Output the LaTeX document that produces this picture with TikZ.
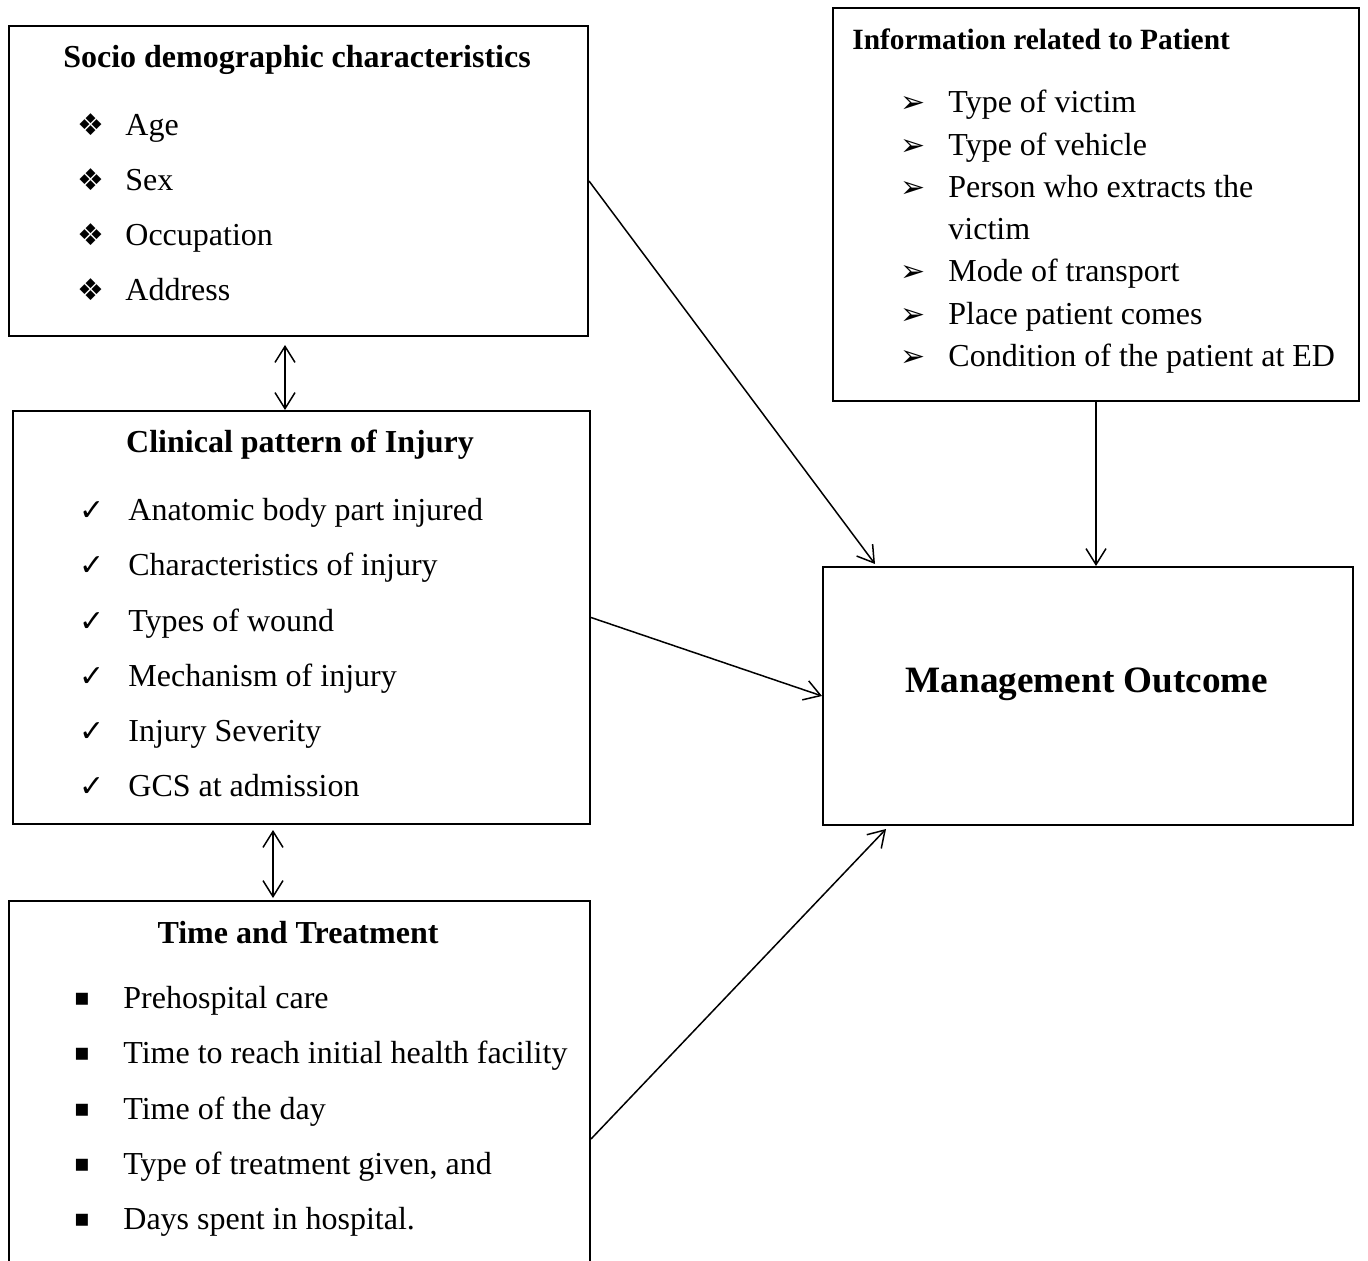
\documentclass[tikz,border=0pt]{standalone}
\usepackage{fontspec}
\setmainfont{Liberation Serif}
\newfontfamily\symfont{DejaVu Sans}
\usetikzlibrary{arrows.meta}

\begin{document}
\begin{tikzpicture}[x=0.5pt, y=-0.5pt,
    box/.style={draw, line width=1pt, anchor=north west, inner sep=0pt},
    head/.style={font=\fontsize{16}{19}\selectfont\bfseries, inner sep=0pt, yshift=-1.5pt},
    item/.style={font=\fontsize{16}{19}\selectfont, anchor=west, inner sep=0pt, yshift=-1.5pt,
        text height=11pt, text depth=3.5pt},
    bul/.style={font=\symfont\fontsize{15}{17}\selectfont, inner sep=0pt, yshift=-1pt,
        text height=9pt, text depth=0.5pt},
    link/.style={-{Straight Barb[length=8pt,width=10pt]}, line width=0.75pt},
    both/.style={{Straight Barb[length=8pt,width=10pt]}-{Straight Barb[length=8pt,width=10pt]}, line width=0.75pt}]
    \useasboundingbox (0,0) rectangle (1368,1261);
    \begin{scope}
    \clip (0,0) rectangle (1368,1261);
    % boxes
    \node[box, minimum width=289.5pt, minimum height=155pt] (socio) at (8,25) {};
    \node[box, minimum width=263pt, minimum height=196.5pt] (info) at (832,7) {};
    \node[box, minimum width=288.5pt, minimum height=206.5pt] (clinic) at (12,410) {};
    \node[box, minimum width=265pt, minimum height=129pt] (outcome) at (822,566) {};
    \node[box, minimum width=290.5pt, minimum height=238pt] (treat) at (8,900) {};
    \end{scope}

    % socio demographic
    \node[head] (sociohead) at (297,57) {Socio demographic characteristics};
    \foreach \t [count=\i] in {Age, Sex, Occupation, Address} {
    \node[bul] (sb\i) at (91, 70+55*\i) {❖};
    \node[item] (st\i) at (125, 70+55*\i) {\t};
    }

    % patient information
    \node[head, font=\fontsize{14.7}{17}\selectfont\bfseries, anchor=west] (infohead) at (852,36) {Information related to Patient};
    \foreach \y/\t [count=\i] in {102/Type of victim, 145/Type of vehicle, 187/Person who extracts the,
        271/Mode of transport, 314/Place patient comes, 356/Condition of the patient at ED} {
    \node[bul] (ib\i) at (913,\y) {➢};
    \node[item] (it\i) at (948,\y) {\t};
    }
    \node[item] (it3b) at (948,229) {victim};

    % clinical pattern
    \node[head] (clinichead) at (300,442) {Clinical pattern of Injury};
    \foreach \t [count=\i] in {Anatomic body part injured, Characteristics of injury, Types of wound,
        Mechanism of injury, Injury Severity, GCS at admission} {
    \node[bul] (cb\i) at (92, 455+55.2*\i) {✓};
    \node[item] (ct\i) at (128, 455+55.2*\i) {\t};
    }

    % time and treatment
    \node[head] (treathead) at (298,930) {Time and Treatment};
    \foreach \t [count=\i] in {Prehospital care, Time to reach initial health facility, Time of the day,
        {Type of treatment given, and}, Days spent in hospital.} {
    \node[bul, font=\symfont\fontsize{12}{14}\selectfont, text height=6pt] (tb\i) at (82, 943+55.2*\i) {▪};
    \node[item] (tt\i) at (123, 943+55.2*\i) {\t};
    }

    % outcome
    \node[head, font=\fontsize{18.6}{22}\selectfont\bfseries] (outhead) at (1087,681) {Management Outcome};

    % connectors
    \coordinate (sc) at ([xshift=-6.75pt]socio.south);
    \coordinate (ct) at ([xshift=-14.25pt]clinic.south);
    \draw[both, shorten <=4pt] (sc) -- (sc |- clinic.north);
    \draw[both, shorten <=2.5pt, shorten >=1pt] (ct) -- (ct |- treat.north);
    \draw[link] (socio.east) -- ([xshift=26.5pt, yshift=1pt]outcome.north west);
    \draw[link] (info.south) -- (info.south |- outcome.north);
    \draw[link] (clinic.east) -- (outcome.west);
    \draw[link] (treat.east) -- ([xshift=32pt, yshift=-1.5pt]outcome.south west);
\end{tikzpicture}
\end{document}
